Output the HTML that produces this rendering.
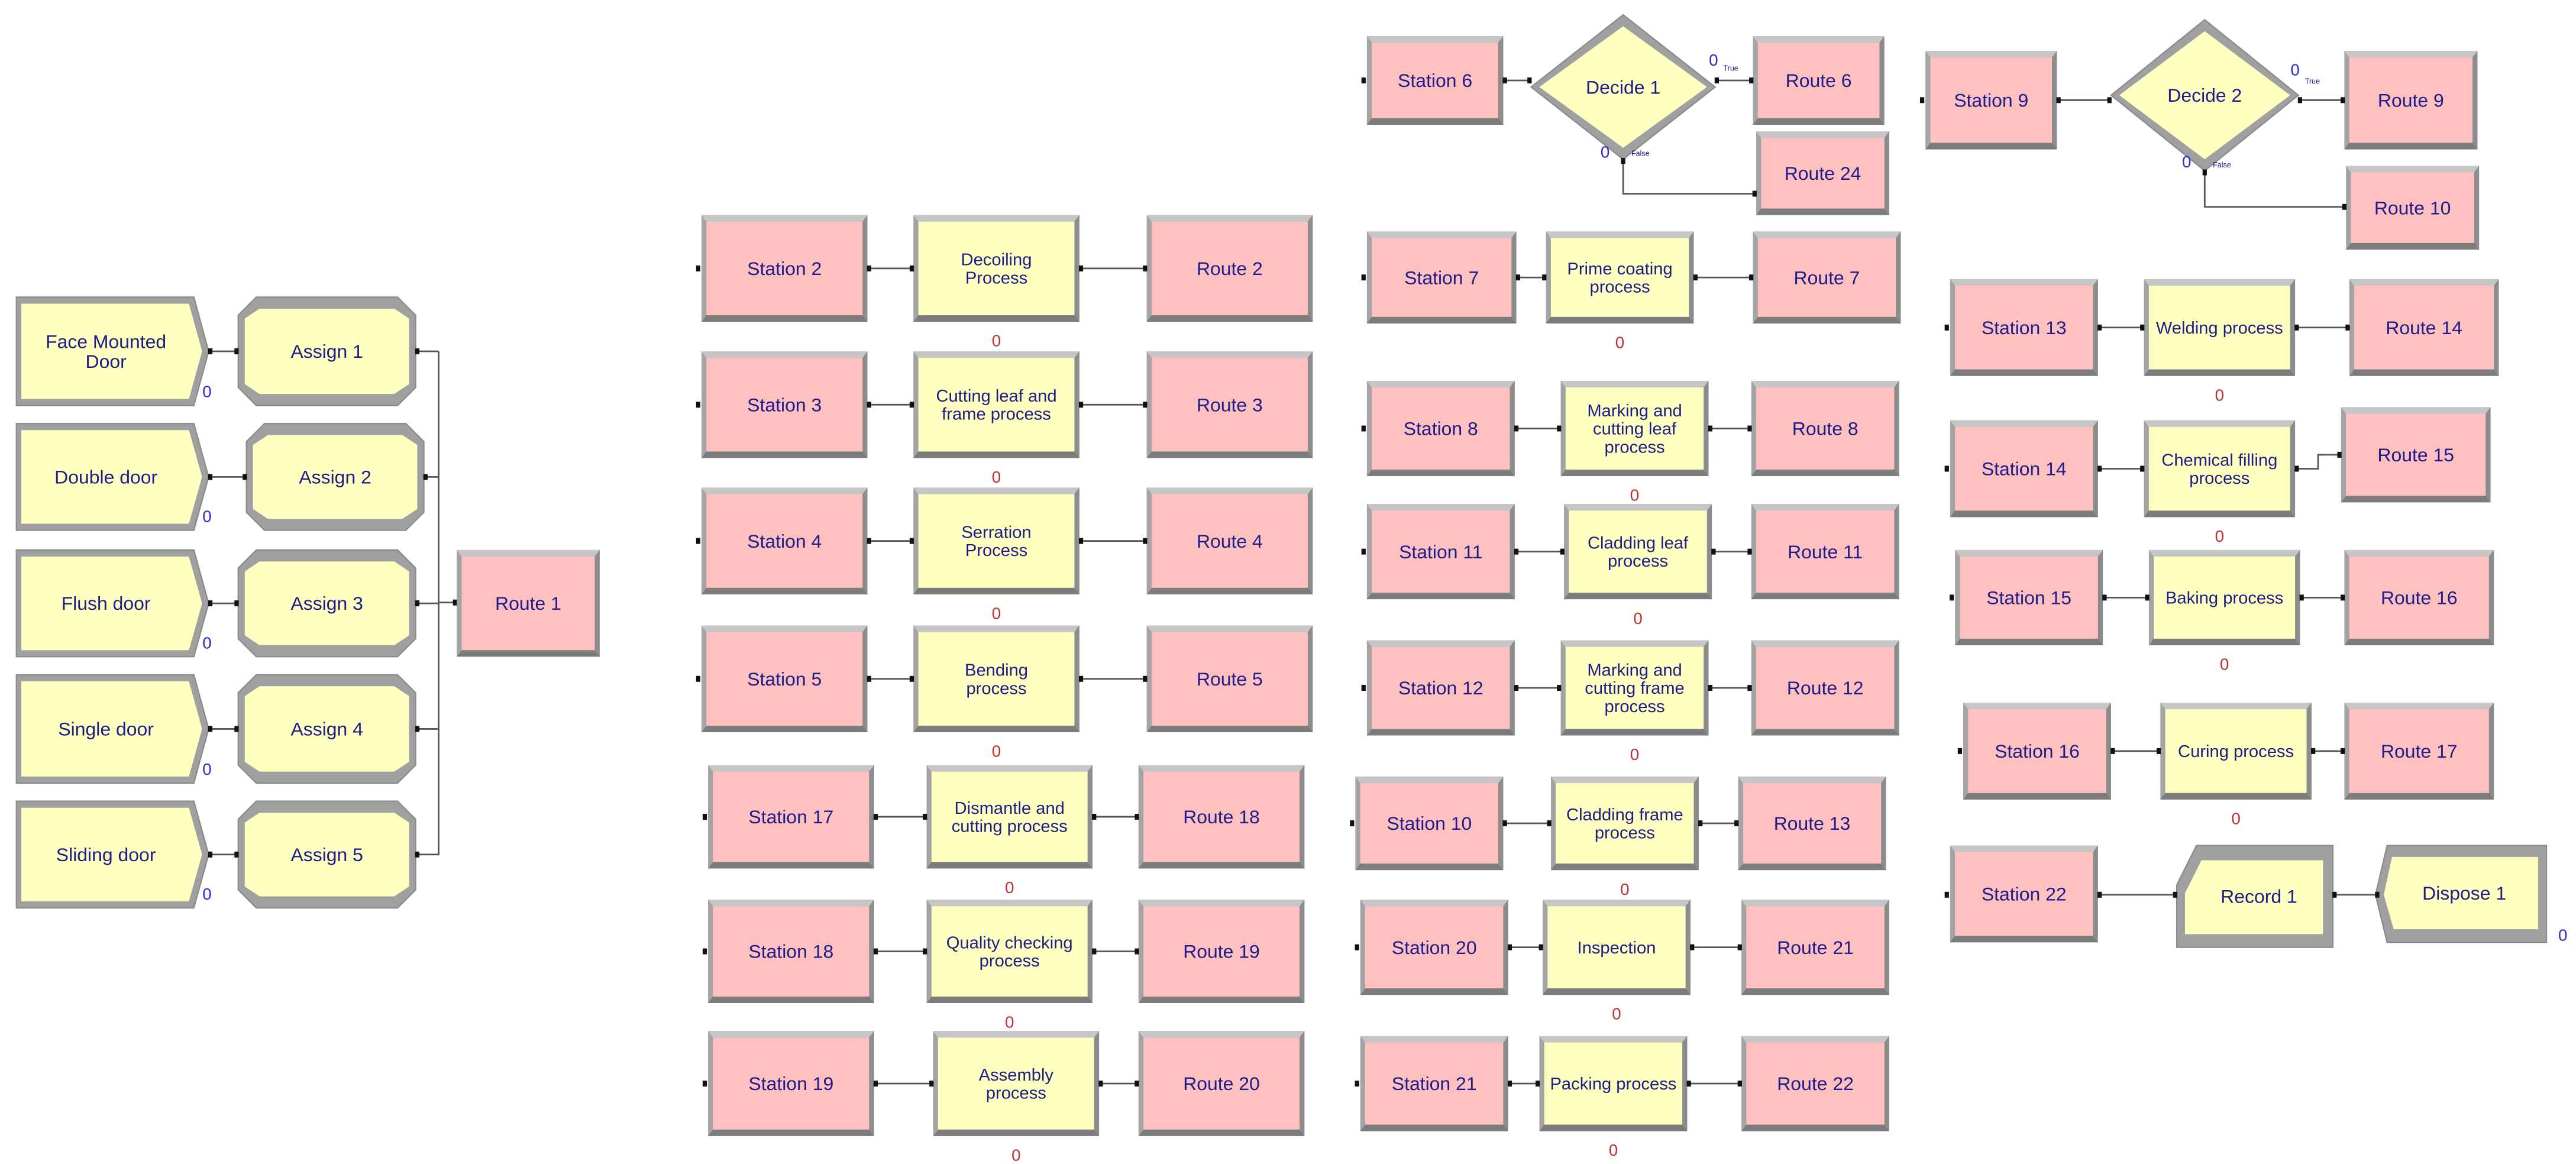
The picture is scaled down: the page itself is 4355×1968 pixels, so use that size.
<!DOCTYPE html>
<html><head><meta charset="utf-8"><style>
html,body{margin:0;padding:0;background:#fff;width:4355px;height:1968px;overflow:hidden}
svg{display:block}
text{font-family:"Liberation Sans",sans-serif;fill:#1c1c8a}
</style></head><body>
<svg id="s" width="4355" height="1968" viewBox="0 0 1568 709" preserveAspectRatio="none" xmlns="http://www.w3.org/2000/svg"></svg>
<script>
const S=document.getElementById('s');let h='';
const P='#ffc0c0',Y='#ffffc0';
function txt(cx,cy,label,fs){const L=label.split('|');fs=fs||11.5;const lh=fs*1.05;let y0=cy-(L.length-1)*lh/2+fs*0.35;
L.forEach((l,i)=>{h+=`<text x="${cx}" y="${y0+i*lh}" font-size="${fs}" text-anchor="middle">${l}</text>`;});}
function frame(pts,fill){ // pts outer polygon
 h+=`<polygon points="${pts.map(p=>p.join(',')).join(' ')}" fill="#a6a6a6"/>`;}
function rectBox(x1,y1,x2,y2,fill,label,fs){
 h+=`<rect x="${x1}" y="${y1}" width="${x2-x1}" height="${y2-y1}" fill="#a4a4a4"/>`;
 h+=`<polygon points="${x1},${y1} ${x2},${y1} ${x2-3},${y1+4} ${x1+3},${y1+4}" fill="#c6c6c6"/>`;
 h+=`<polygon points="${x1},${y2} ${x2},${y2} ${x2-3},${y2-4} ${x1+3},${y2-4}" fill="#7c7c7c"/>`;
 h+=`<polygon points="${x2},${y1} ${x2},${y2} ${x2-3},${y2-4} ${x2-3},${y1+4}" fill="#8c8c8c"/>`;
 h+=`<rect x="${x1+3}" y="${y1+4}" width="${x2-x1-6}" height="${y2-y1-8}" fill="${fill}"/>`;
 txt((x1+x2)/2,(y1+y2)/2,label,fs);}
function poly(outer,inner,fill,label,cx,cy,fs){
 h+=`<polygon points="${outer.map(p=>p.join(',')).join(' ')}" fill="#a0a0a0" stroke="#8a8a8a" stroke-width="0.8"/>`;
 h+=`<polygon points="${inner.map(p=>p.join(',')).join(' ')}" fill="${fill}"/>`;
 txt(cx,cy,label,fs);}
function createB(x1,y1,x2,y2,label){const ym=(y1+y2)/2;
 poly([[x1,y1],[x2-9,y1],[x2,ym],[x2-9,y2],[x1,y2]],[[x1+3,y1+4],[x2-12,y1+4],[x2-4,ym],[x2-12,y2-4],[x1+3,y2-4]],Y,label,(x1+x2-8)/2,ym);}
function assignB(x1,y1,x2,y2,label){const c=11,ym=(y1+y2)/2;
 poly([[x1+c,y1],[x2-c,y1],[x2,y1+c],[x2,y2-c],[x2-c,y2],[x1+c,y2],[x1,y2-c],[x1,y1+c]],
 [[x1+c+2,y1+7],[x2-c-2,y1+7],[x2-4,y1+c+2],[x2-4,y2-c-2],[x2-c-2,y2-7],[x1+c+2,y2-7],[x1+4,y2-c-2],[x1+4,y1+c+2]],Y,label,(x1+x2)/2,ym);}
function diamond(cx,cy,w,hh,label){
 poly([[cx,cy-hh],[cx+w,cy],[cx,cy+hh],[cx-w,cy]],[[cx,cy-hh+7],[cx+w-5,cy],[cx,cy+hh-7],[cx-w+5,cy]],Y,label,cx,cy);}
function line(pts){h+=`<polyline points="${pts.map(p=>p.join(',')).join(' ')}" fill="none" stroke="#555" stroke-width="1"/>`;}
function dot(x,y){h+=`<rect x="${x-1.3}" y="${y-1.8}" width="2.6" height="3.6" fill="#111"/>`;}
function conn(ax,ay,bx,by){const m=(ax+bx)/2;line([[ax,ay],[m,ay],[m,by],[bx,by]]);dot(ax+1,ay);dot(bx-1,by);}
function zero(x,y,c){h+=`<text x="${x}" y="${y}" font-size="10" text-anchor="middle" style="fill:${c}">0</text>`;}
function row(a,b,c,labels,z){ // a,b,c =[x1,y1,x2,y2]
 rectBox(...a,P,labels[0]);rectBox(...b,Y,labels[1],10.5);rectBox(...c,P,labels[2]);
 dot(a[0]-2,(a[1]+a[3])/2);
 conn(a[2],(a[1]+a[3])/2,b[0],(b[1]+b[3])/2);conn(b[2],(b[1]+b[3])/2,c[0],(c[1]+c[3])/2);
 zero((b[0]+b[2])/2,b[3]+15,'#c03030');}
// left
const cr=[['Face Mounted|Door',181,247,145,253],['Double door',258,323,150,258],['Flush door',335,400,145,253],['Single door',411,477,145,253],['Sliding door',488,553,145,253]];
cr.forEach((r,i)=>{createB(10,r[1],127,r[2],r[0]);assignB(r[3],r[1],r[4],r[2],'Assign '+(i+1));
 const ym=(r[1]+r[2])/2;conn(127,ym,r[3],ym);zero(126,r[2]-5,'#2a2ad0');
 line([[r[4],ym],[267,ym]]);dot(r[4]+1,ym);});
line([[267,214],[267,521]]);line([[267,367],[278,367]]);dot(277,367);
rectBox(278,335,365,400,P,'Route 1');
// column 2
const c2=[[131,196,'Station 2','Decoiling|Process','Route 2',427,556,698],[214,279,'Station 3','Cutting leaf and|frame process','Route 3',427,556,698],
[297,362,'Station 4','Serration|Process','Route 4',427,556,698],[381,446,'Station 5','Bending|process','Route 5',427,556,698],
[466,529,'Station 17','Dismantle and|cutting process','Route 18',431,564,693],[548,611,'Station 18','Quality checking|process','Route 19',431,564,693],
[628,692,'Station 19','Assembly|process','Route 20',431,568,693]];
c2.forEach(r=>{row([r[5],r[0],r[5]+101,r[1]],[r[6],r[0],r[6]+101,r[1]],[r[7],r[0],r[7]+101,r[1]],[r[2],r[3],r[4]]);});
// column 3 decide
rectBox(832,22,915,76,P,'Station 6');dot(830,49);diamond(988,53,56,44,'Decide 1');
rectBox(1067,22,1147,76,P,'Route 6');rectBox(1069,80,1150,131,P,'Route 24');
conn(915,49,932,49);conn(1044,49,1067,49);line([[988,97],[988,118],[1069,118]]);dot(1068,118);dot(988,98);
zero(1043,40,'#2a2ad0');zero(977,96,'#2a2ad0');
h+=`<text x="1049" y="43" font-size="4.5">True</text><text x="993" y="95" font-size="4.5">False</text>`;
const c3=[[141,197,'Station 7','Prime coating|process','Route 7',832,941,1067,91],[232,290,'Station 8','Marking and|cutting leaf|process','Route 8',832,950,1066,90],
[307,365,'Station 11','Cladding leaf|process','Route 11',832,952,1066,90],[390,448,'Station 12','Marking and|cutting frame|process','Route 12',832,950,1066,90],
[473,530,'Station 10','Cladding frame|process','Route 13',825,944,1058,90],[548,606,'Station 20','Inspection','Route 21',828,939,1060,90],
[631,689,'Station 21','Packing process','Route 22',828,937,1060,90]];
c3.forEach(r=>{row([r[5],r[0],r[5]+r[8],r[1]],[r[6],r[0],r[6]+90,r[1]],[r[7],r[0],r[7]+90,r[1]],[r[2],r[3],r[4]]);});
// column 4
rectBox(1172,31,1252,91,P,'Station 9');dot(1170,61);diamond(1342,58,57,46,'Decide 2');
rectBox(1427,31,1508,91,P,'Route 9');rectBox(1428,101,1509,152,P,'Route 10');
conn(1252,61,1285,61);conn(1399,61,1427,61);line([[1342,104],[1342,126],[1428,126]]);dot(1427,126);dot(1342,105);
zero(1397,46,'#2a2ad0');zero(1331,102,'#2a2ad0');
h+=`<text x="1403" y="51" font-size="4.5">True</text><text x="1347" y="102" font-size="4.5">False</text>`;
const c4=[[170,229,'Station 13','Welding process','Route 14',1187,1305,1430,170,229],[256,315,'Station 14','Chemical filling|process','Route 15',1187,1305,1425,248,306],
[335,393,'Station 15','Baking process','Route 16',1190,1308,1427,335,393],[428,487,'Station 16','Curing process','Route 17',1195,1315,1427,428,487]];
c4.forEach(r=>{row([r[5],r[0],r[5]+90,r[1]],[r[6],r[0],r[6]+92,r[1]],[r[7],r[8],r[7]+91,r[9]],[r[2],r[3],r[4]]);});
rectBox(1187,515,1277,574,P,'Station 22');dot(1185,545);
poly([[1337,515],[1420,515],[1420,577],[1325,577],[1325,539]],[[1340,524],[1414,524],[1414,569],[1330,569],[1330,544]],Y,'Record 1',1375,546);
poly([[1453,515],[1550,515],[1550,574],[1453,574],[1446,545]],[[1456,522],[1545,522],[1545,566],[1457,566],[1451,545]],Y,'Dispose 1',1500,544);
conn(1277,545,1325,545);conn(1420,545,1448,545);zero(1560,573,'#2a2ad0');
S.innerHTML=h;
</script>
</body></html>
